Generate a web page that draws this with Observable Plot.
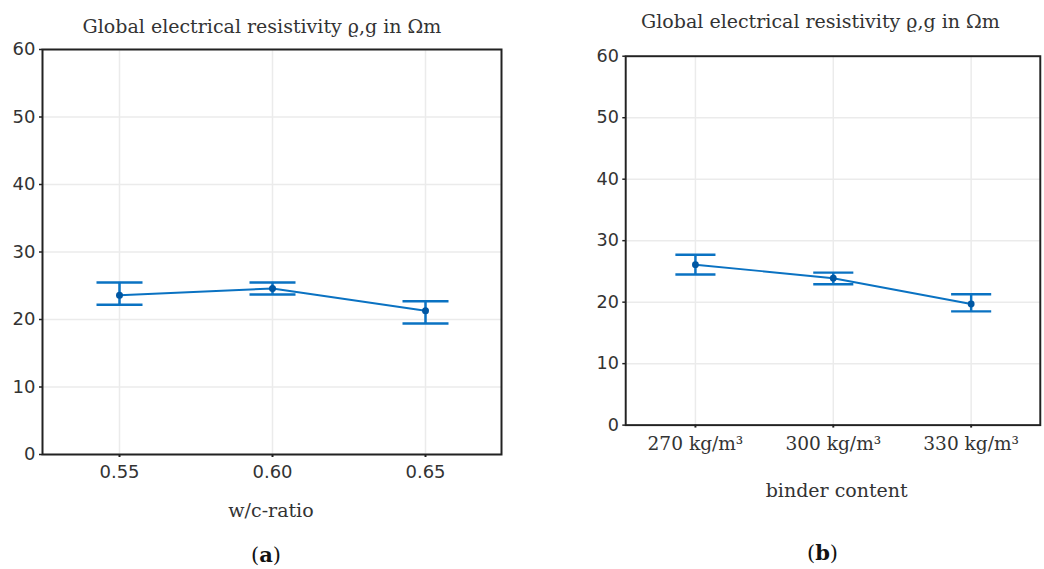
<!DOCTYPE html>
<html><head><meta charset="utf-8">
<script src="https://cdn.jsdelivr.net/npm/d3@7"></script>
<script src="https://cdn.jsdelivr.net/npm/@observablehq/plot@0.6"></script>
<style>
html,body{margin:0;padding:0;background:#fff;}
body{width:1044px;height:569px;overflow:hidden;position:relative;}
.panel{position:absolute;top:0;}
#overlay{position:absolute;left:0;top:0;pointer-events:none;}
</style></head><body>
<div id="pa" class="panel" style="left:0px"></div>
<div id="pb" class="panel" style="left:560px"></div>
<script>
// ---- data ----
const wcRatio = ["0.55", "0.60", "0.65"];
const wcMean = [23.6, 24.6, 21.3];
const wcLow = [22.2, 23.7, 19.4];
const wcHigh = [25.5, 25.5, 22.7];

const binder = ["270 kg/m³", "300 kg/m³", "330 kg/m³"];
const binderMean = [26.1, 23.9, 19.7];
const binderLow = [24.5, 22.9, 18.5];
const binderHigh = [27.7, 24.8, 21.3];

const yTicks = [0, 10, 20, 30, 40, 50, 60];
const titleText = "Global electrical resistivity ϱ,g in Ωm";

// horizontal cap symbol (half width = r)
const capSymbol = {
  draw(ctx, size) {
    const w = Math.sqrt(size / Math.PI);
    ctx.moveTo(-w, 0);
    ctx.lineTo(w, 0);
  }
};

const lineBlue = "#0a72c2";
const dotBlue = "#0057a3";

function panel(cats, mean, low, high, o) {
  const rows = cats.map((c, i) => ({c, m: mean[i], lo: low[i], hi: high[i]}));
  return Plot.plot({
    width: o.width, height: 569,
    marginLeft: o.ml, marginRight: o.mr, marginTop: o.mt, marginBottom: o.mb,
    style: {fontFamily: "DejaVu Sans", fontSize: "18px", color: "#333", background: "transparent"},
    x: {type: "point", domain: cats, padding: 0.5},
    y: {domain: [0, 60]},
    marks: [
      Plot.gridX(cats, {stroke: "#ebebeb", strokeOpacity: 1, strokeWidth: 1.5}),
      Plot.gridY(yTicks, {stroke: "#ebebeb", strokeOpacity: 1, strokeWidth: 1.5}),
      Plot.axisY(yTicks, {tickSize: 3, tickPadding: 4, label: null, stroke: "#222", strokeWidth: 1.5}),
      Plot.axisX({tickSize: 3, tickPadding: o.xpad, label: null, stroke: "#222", strokeWidth: 2,
                  fontFamily: o.xfont, fontSize: o.xsize}),
      Plot.frame({stroke: "#222", strokeWidth: 2}),
      Plot.line(rows, {x: "c", y: "m", stroke: lineBlue, strokeWidth: 2}),
      Plot.ruleX(rows, {x: "c", y1: "lo", y2: "hi", stroke: lineBlue, strokeWidth: 2.5}),
      Plot.dot(rows, {x: "c", y: "lo", symbol: capSymbol, r: o.cap, stroke: lineBlue, strokeWidth: 2.5, fill: "none"}),
      Plot.dot(rows, {x: "c", y: "hi", symbol: capSymbol, r: o.cap, stroke: lineBlue, strokeWidth: 2.5, fill: "none"}),
      Plot.dot(rows, {x: "c", y: "m", r: 3.5, fill: dotBlue, stroke: "none"})
    ]
  });
}

document.getElementById("pa").append(panel(wcRatio, wcMean, wcLow, wcHigh,
  {width: 520, ml: 42, mr: 19, mt: 49, mb: 115, cap: 23, xpad: 8, xfont: "DejaVu Sans", xsize: 18}));
document.getElementById("pb").append(panel(binder, binderMean, binderLow, binderHigh,
  {width: 495, ml: 66.7, mr: 4.3, mt: 57, mb: 134.7, cap: 20.5, xpad: 9, xfont: "DejaVu Serif", xsize: 19}));

// ---- text annotations ----
const svg = d3.select("body").append("svg").attr("id", "overlay")
  .attr("width", 1044).attr("height", 569)
  .style("font-family", "DejaVu Serif").style("fill", "#333");
const labels = [
  {t: titleText, x: 262, y: 33, s: 19},
  {t: titleText, x: 820.5, y: 28, s: 19},
  {t: "w/c-ratio", x: 271, y: 517, s: 19},
  {t: "binder content", x: 836.7, y: 497, s: 19}
];
labels.forEach(d => svg.append("text").attr("x", d.x).attr("y", d.y)
  .attr("text-anchor", "middle").attr("font-size", d.s).text(d.t));
[{l: "a", x: 266, y: 562}, {l: "b", x: 822.5, y: 560}].forEach(d => {
  const t = svg.append("text").attr("x", d.x).attr("y", d.y).attr("text-anchor", "middle")
    .attr("font-size", 21).style("fill", "#111");
  t.append("tspan").text("(");
  t.append("tspan").attr("font-weight", "bold").text(d.l);
  t.append("tspan").text(")");
});
</script>
</body></html>
